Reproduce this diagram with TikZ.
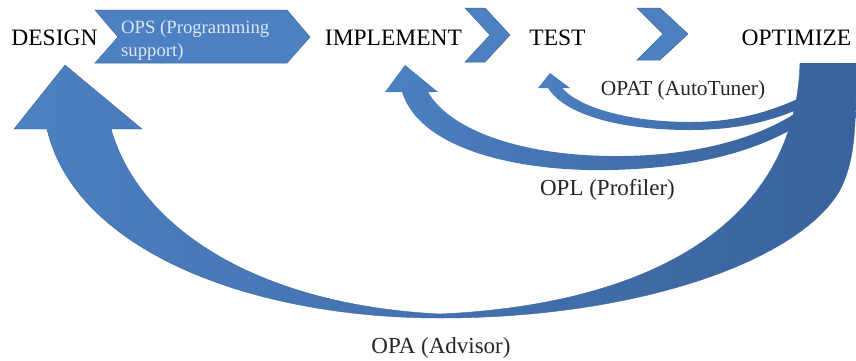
\documentclass[tikz,border=0pt]{standalone}
\usepackage{fontspec}
\setmainfont{Liberation Serif}
\definecolor{bl}{RGB}{76,128,193}
\definecolor{bd}{RGB}{58,99,157}
\definecolor{edgec}{RGB}{62,104,158}
\definecolor{opstext}{RGB}{222,231,245}
\begin{document}
\begin{tikzpicture}[x=1pt,y=-1pt,
  word/.style={inner sep=0pt, anchor=base, font=\rmfamily\fontsize{23.5}{26}\selectfont, text=black},
  lab/.style={inner sep=0pt, anchor=base, font=\rmfamily\fontsize{23}{26}\selectfont, text=black!85},
  opsl/.style={inner sep=0pt, anchor=base west, font=\rmfamily\fontsize{18.7}{22}\selectfont, text=opstext},
  chev/.style={fill=bl, draw=edgec, line width=0.5pt},
  edgeline/.style={draw=edgec, line width=0.4pt},
  thinarrow/.style={left color=bl, right color=bd, draw=none}]
\useasboundingbox (0,0) rectangle (856,360);

% chevrons
\draw[chev] (95,10) -- (287,10) -- (310,37) -- (287,63) -- (95,63) -- (118,37) -- cycle;
\draw[chev] (465,8) -- (485,8) -- (510,35) -- (485,62) -- (465,62) -- (490,35) -- cycle;
\draw[chev] (637,8) -- (660,8) -- (688,34) -- (660,60) -- (637,60) -- (663,34) -- cycle;

% OPL arrow
\path[thinarrow] (405,65) -- (438,92) -- (428,92)
  .. controls (450,130) and (520,155) .. (610,156)
  .. controls (690,157) and (760,140) .. (806,106)
  -- (804,122)
  .. controls (760,150) and (700,168) .. (610,170)
  .. controls (520,172) and (420,150) .. (402,92)
  -- (385,92) -- cycle;

% OPAT arrow
\path[thinarrow] (550,73) -- (570,88) -- (562,88)
  .. controls (580,108) and (630,122) .. (690,122)
  .. controls (740,122) and (775,110) .. (806,95)
  -- (806,106)
  .. controls (775,120) and (740,130) .. (690,130)
  .. controls (620,130) and (565,115) .. (548,88)
  -- (538,88) -- cycle;

% OPA (big loop arrow)
\path[left color=bl, right color=bd] (65,65) -- (142,129) -- (111,129)
  .. controls (140,230) and (260,305) .. (440,314)
  .. controls (640,305) and (795,230) .. (800,63)
  -- (856,63)
  .. controls (856,130) and (855,160) .. (840,190)
  .. controls (800,260) and (640,318) .. (440,318)
  .. controls (250,318) and (75,250) .. (47,129)
  -- (14,129) -- cycle;
\path[edgeline] (856,63)
  .. controls (856,130) and (855,160) .. (840,190)
  .. controls (800,260) and (640,318) .. (440,318)
  .. controls (250,318) and (75,250) .. (47,129)
  -- (14,129) -- (65,65) -- (142,129) -- (111,129)
  .. controls (140,230) and (260,305) .. (440,314)
  .. controls (640,305) and (795,230) .. (800,63);

% texts
\node[word] (design) at (54.5,45) {DESIGN};
\node[word] (implement) at (393.5,45) {IMPLEMENT};
\node[word] (test) at (557.5,45) {TEST};
\node[word] (optimize) at (796.5,45) {OPTIMIZE};
\node[opsl] (ops1) at (121,33) {OPS (Programming};
\node[opsl] (ops2) at (121,56) {support)};
\node[lab, font=\rmfamily\fontsize{21.4}{24}\selectfont] (opat) at (683,95) {OPAT (AutoTuner)};
\node[lab] (opl) at (607.5,195) {OPL (Profiler)};
\node[lab] (opa) at (441,353) {OPA (Advisor)};
\end{tikzpicture}
\end{document}
